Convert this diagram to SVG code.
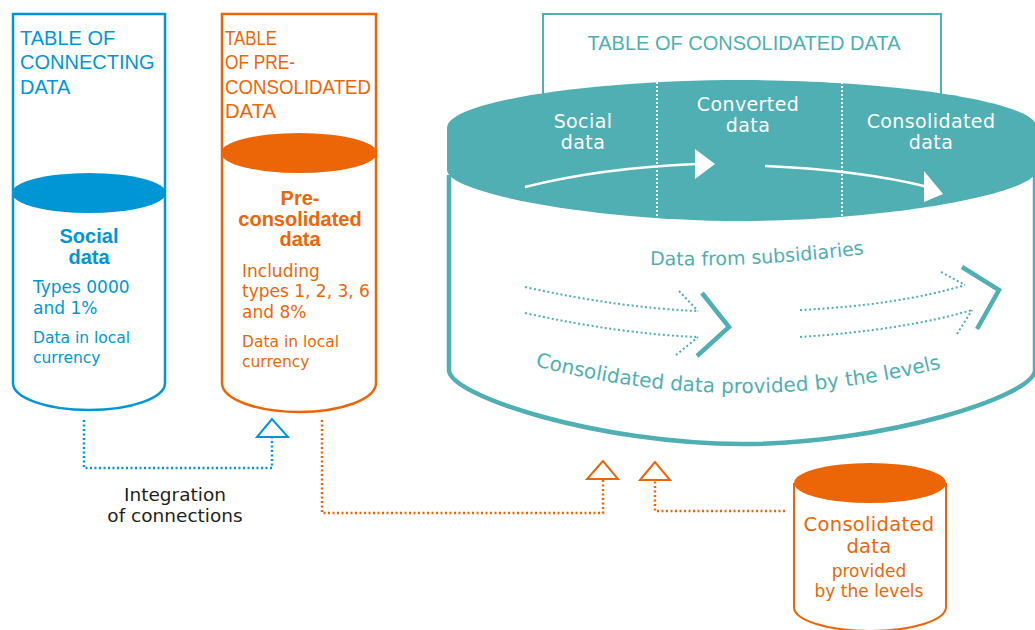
<svg xmlns="http://www.w3.org/2000/svg" width="1035" height="630" viewBox="0 0 1035 630">
<defs>
<style>
.cap{font-family:"Liberation Sans",Arial,sans-serif;font-size:20px}
.txt{font-family:"DejaVu Sans","Liberation Sans",sans-serif}
.bold{font-family:"Liberation Sans",Arial,sans-serif;font-weight:bold;font-size:20px}
.blue{fill:#0096D6}
.orange{fill:#EC6608}
.teal{fill:#4FAFB2}
.white{fill:#ffffff;font-size:19px;letter-spacing:0.4px}
.mid{text-anchor:middle}
.bline{fill:#ffffff;stroke:#0096D6;stroke-width:2.5}
.oline{fill:#ffffff;stroke:#EC6608;stroke-width:2.5}
.bdot{fill:none;stroke:#0096D6;stroke-width:2.5;stroke-dasharray:2 2.5}
.odot{fill:none;stroke:#EC6608;stroke-width:2.5;stroke-dasharray:2 2.5}
.tdot{fill:none;stroke:#4FAFB2;stroke-width:2;stroke-dasharray:2 2.5}
.wdot{fill:none;stroke:#ffffff;stroke-width:2;stroke-dasharray:2 2}
.chev{fill:none;stroke:#4FAFB2;stroke-width:4.5}
</style>
<path id="arcTop" d="M650,265 Q760,268 872,253"/>
<path id="arcBottom" d="M535,366 Q742,420 950,366"/>
</defs>
<rect width="1035" height="630" fill="#ffffff"/>

<g id="connecting-table">
<path class="bline" d="M13,14 H165 V383 A76,27 0 0 1 13,383 Z"/>
<ellipse cx="89" cy="193" rx="77" ry="20" fill="#0096D6"/>
<text class="cap blue" x="20" y="45">TABLE OF</text>
<text class="cap blue" x="20" y="69">CONNECTING</text>
<text class="cap blue" x="20" y="94">DATA</text>
<text class="bold blue mid" x="89" y="243">Social</text>
<text class="bold blue mid" x="89" y="264">data</text>
<text class="txt blue" x="33" y="293" font-size="17">Types 0000</text>
<text class="txt blue" x="33" y="314" font-size="17">and 1%</text>
<text class="txt blue" x="33" y="343" font-size="15.5">Data in local</text>
<text class="txt blue" x="33" y="363" font-size="15.5">currency</text>
</g>

<g id="preconsolidated-table">
<path class="oline" d="M222,14 H376 V383 A77,29 0 0 1 222,383 Z"/>
<ellipse cx="299" cy="153" rx="78" ry="20" fill="#EC6608"/>
<text class="cap orange" x="225" y="45" textLength="52" lengthAdjust="spacingAndGlyphs">TABLE</text>
<text class="cap orange" x="225" y="69" textLength="70" lengthAdjust="spacingAndGlyphs">OF PRE-</text>
<text class="cap orange" x="225" y="94" textLength="146" lengthAdjust="spacingAndGlyphs">CONSOLIDATED</text>
<text class="cap orange" x="225" y="118" textLength="51" lengthAdjust="spacingAndGlyphs">DATA</text>
<text class="bold orange mid" x="300" y="205">Pre-</text>
<text class="bold orange mid" x="300" y="226">consolidated</text>
<text class="bold orange mid" x="300" y="246">data</text>
<text class="txt orange" x="242" y="277" font-size="17">Including</text>
<text class="txt orange" x="242" y="297" font-size="17">types 1, 2, 3, 6</text>
<text class="txt orange" x="242" y="318" font-size="17">and 8%</text>
<text class="txt orange" x="242" y="347" font-size="15.5">Data in local</text>
<text class="txt orange" x="242" y="367" font-size="15.5">currency</text>
</g>

<g id="consolidated-table">
<rect x="543" y="14" width="398" height="110" fill="#ffffff" stroke="#4FAFB2" stroke-width="2"/>
<text class="cap teal mid" x="744" y="50" font-size="19.5">TABLE OF CONSOLIDATED DATA</text>
<path d="M449,175 V370 C449,396 600,444 742,444 C884,444 1035,396 1035,370 V175" fill="none" stroke="#4FAFB2" stroke-width="4.5"/>
<path d="M447,128 C447,100 600,80 742,80 C884,80 1037,100 1037,128 L1037,170 C1037,194 884,221 742,221 C600,221 447,194 447,170 Z" fill="#4FAFB2"/>
<path class="wdot" d="M657,82 V219"/>
<path class="wdot" d="M842,82 V218"/>
<text class="txt white mid" x="583" y="128">Social</text>
<text class="txt white mid" x="583" y="149">data</text>
<text class="txt white mid" x="748" y="111">Converted</text>
<text class="txt white mid" x="748" y="132">data</text>
<text class="txt white mid" x="931" y="128">Consolidated</text>
<text class="txt white mid" x="931" y="149">data</text>
<path d="M525,187 Q600,168 696,164" fill="none" stroke="#ffffff" stroke-width="2.5"/>
<polygon points="695,149 715,164 695,179" fill="#ffffff"/>
<path d="M765,166 Q860,170 928,187" fill="none" stroke="#ffffff" stroke-width="2.5"/>
<polygon points="924,171 943,194 924,202" fill="#ffffff"/>
<text class="txt teal" font-size="19"><textPath href="#arcTop">Data from subsidiaries</textPath></text>
<text class="txt teal" font-size="20"><textPath href="#arcBottom">Consolidated data provided by the levels</textPath></text>
<path class="tdot" d="M525,287 Q620,308 698,311 M679,291 L698,311"/>
<path class="tdot" d="M525,313 Q620,334 698,337 M676,355 L698,337"/>
<path class="chev" d="M702,293 L729,327 L697,356"/>
<path class="tdot" d="M800,310 Q900,305 965,285 M941,272 L965,285"/>
<path class="tdot" d="M800,337 Q905,330 972,310 M957,334 L972,310"/>
<path class="chev" d="M962,267 L999,290 L977,329"/>
</g>

<g id="levels-data">
<path d="M794,483 V607 A76,24 0 0 0 946,607 V483" fill="#ffffff" stroke="#EC6608" stroke-width="2"/>
<ellipse cx="870" cy="483" rx="76" ry="20" fill="#EC6608"/>
<text class="txt orange mid" x="869" y="531" font-size="19.5" letter-spacing="0.3">Consolidated</text>
<text class="txt orange mid" x="869" y="553" font-size="19.5" letter-spacing="0.3">data</text>
<text class="txt orange mid" x="869" y="577" font-size="17">provided</text>
<text class="txt orange mid" x="869" y="597" font-size="17">by the levels</text>
</g>

<g id="connectors">
<path class="bdot" d="M84,420 V468 H272 V438"/>
<polygon points="272,419 257,437 288,437" fill="#ffffff" stroke="#0096D6" stroke-width="2"/>
<path class="odot" d="M322,420 V513 H603 V480"/>
<polygon points="603,461 587,479 618,479" fill="#ffffff" stroke="#EC6608" stroke-width="2"/>
<path class="odot" d="M785,511 H655 V481"/>
<polygon points="655,462 640,480 670,480" fill="#ffffff" stroke="#EC6608" stroke-width="2"/>
</g>

<g id="integration-label">
<text class="txt mid" x="175" y="501" font-size="18.5" fill="#231F20">Integration</text>
<text class="txt mid" x="175" y="522" font-size="18.5" fill="#231F20">of connections</text>
</g>
</svg>
